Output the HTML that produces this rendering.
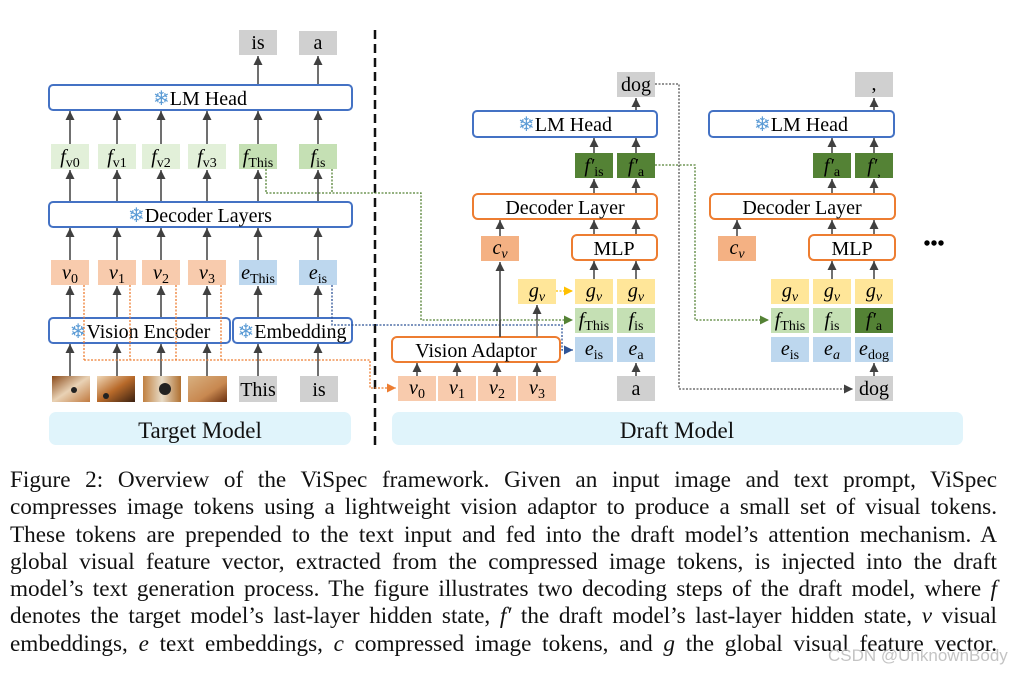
<!DOCTYPE html>
<html><head><meta charset="utf-8"><style>
html,body{margin:0;padding:0;background:#fff;}
body{width:1028px;height:675px;position:relative;overflow:hidden;font-family:"Liberation Serif",serif;}
svg{position:absolute;left:0;top:0;}
.cap{position:absolute;left:10px;top:467px;width:987px;font-size:23.2px;line-height:27.3px;color:#111;}
.cap div{text-align:justify;text-align-last:justify;white-space:nowrap;height:27.3px;}
.cap i{font-style:italic;}
.wm{position:absolute;left:828px;top:646px;font-family:"Liberation Sans",sans-serif;font-size:17px;color:#c4c4c4;}
</style></head><body>
<svg width="1028" height="675" viewBox="0 0 1028 675" font-family="Liberation Serif, serif">
<defs>
<marker id="a" markerUnits="userSpaceOnUse" markerWidth="10" markerHeight="10" refX="9" refY="5" orient="auto"><path d="M0,0.5 L9,5 L0,9.5 z" fill="#404040"/></marker>
<marker id="ao" markerUnits="userSpaceOnUse" markerWidth="10" markerHeight="10" refX="9" refY="5" orient="auto"><path d="M0,0.5 L9,5 L0,9.5 z" fill="#ED7D31"/></marker>
<marker id="ag" markerUnits="userSpaceOnUse" markerWidth="10" markerHeight="10" refX="9" refY="5" orient="auto"><path d="M0,0.5 L9,5 L0,9.5 z" fill="#548235"/></marker>
<marker id="ab" markerUnits="userSpaceOnUse" markerWidth="10" markerHeight="10" refX="9" refY="5" orient="auto"><path d="M0,0.5 L9,5 L0,9.5 z" fill="#2F5597"/></marker>
<marker id="ay" markerUnits="userSpaceOnUse" markerWidth="10" markerHeight="10" refX="9" refY="5" orient="auto"><path d="M0,0.5 L9,5 L0,9.5 z" fill="#FFC000"/></marker>
<linearGradient id="d1" x1="0" y1="0" x2="1" y2="1"><stop offset="0" stop-color="#8a4a1a"/><stop offset="0.5" stop-color="#e9d2b5"/><stop offset="1" stop-color="#c07a40"/></linearGradient>
<linearGradient id="d2" x1="0" y1="0" x2="1" y2="1"><stop offset="0" stop-color="#f0d8b8"/><stop offset="0.5" stop-color="#b86a2a"/><stop offset="1" stop-color="#3a2010"/></linearGradient>
<linearGradient id="d3" x1="0" y1="0" x2="1" y2="0"><stop offset="0" stop-color="#c08040"/><stop offset="0.5" stop-color="#e8dcc8"/><stop offset="1" stop-color="#b07030"/></linearGradient>
<linearGradient id="d4" x1="0" y1="0" x2="1" y2="1"><stop offset="0" stop-color="#d8b080"/><stop offset="0.6" stop-color="#c88850"/><stop offset="1" stop-color="#6a3010"/></linearGradient>
</defs>

<rect x="49" y="412" width="302" height="33" rx="7" fill="#E0F4FB"/>
<text x="200" y="438" font-size="23" text-anchor="middle" fill="#111">Target Model</text>
<rect x="392" y="412" width="571" height="33" rx="7" fill="#E0F4FB"/>
<text x="677" y="438" font-size="23" text-anchor="middle" fill="#111">Draft Model</text>
<line x1="375" y1="30" x2="375" y2="445" stroke="#111" stroke-width="2.5" stroke-dasharray="9,5"/>

<g stroke="#404040" stroke-width="1.5" marker-end="url(#a)">
<line x1="258" y1="85" x2="258" y2="56"/><line x1="318" y1="85" x2="318" y2="56"/>
<line x1="70" y1="144" x2="70" y2="111"/><line x1="117" y1="144" x2="117" y2="111"/><line x1="161" y1="144" x2="161" y2="111"/><line x1="207" y1="144" x2="207" y2="111"/><line x1="258" y1="144" x2="258" y2="111"/><line x1="318" y1="144" x2="318" y2="111"/>
<line x1="70" y1="202" x2="70" y2="170"/><line x1="117" y1="202" x2="117" y2="170"/><line x1="161" y1="202" x2="161" y2="170"/><line x1="207" y1="202" x2="207" y2="170"/><line x1="258" y1="202" x2="258" y2="170"/><line x1="318" y1="202" x2="318" y2="170"/>
<line x1="70" y1="260" x2="70" y2="228"/><line x1="117" y1="260" x2="117" y2="228"/><line x1="161" y1="260" x2="161" y2="228"/><line x1="207" y1="260" x2="207" y2="228"/><line x1="258" y1="260" x2="258" y2="228"/><line x1="318" y1="260" x2="318" y2="228"/>
<line x1="70" y1="318" x2="70" y2="286"/><line x1="117" y1="318" x2="117" y2="286"/><line x1="161" y1="318" x2="161" y2="286"/><line x1="207" y1="318" x2="207" y2="286"/><line x1="258" y1="318" x2="258" y2="286"/><line x1="318" y1="318" x2="318" y2="286"/>
<line x1="70" y1="376" x2="70" y2="344"/><line x1="117" y1="376" x2="117" y2="344"/><line x1="161" y1="376" x2="161" y2="344"/><line x1="207" y1="376" x2="207" y2="344"/><line x1="258" y1="376" x2="258" y2="344"/><line x1="318" y1="376" x2="318" y2="344"/>
</g>
<rect x="239" y="30" width="38" height="25" fill="#D0D0D0"/><text x="258" y="49" font-size="20" text-anchor="middle">is</text>
<rect x="299" y="31" width="38" height="24" fill="#D0D0D0"/><text x="318" y="49" font-size="20" text-anchor="middle">a</text>
<rect x="49" y="85" width="303" height="25" rx="4" fill="#fff" stroke="#4472C4" stroke-width="2"/>
<text x="200" y="105" font-size="20" text-anchor="middle"><tspan fill="#5B9BD5">❄</tspan>LM Head</text>
<g font-size="20" text-anchor="middle">
<rect x="51" y="144" width="38" height="25" fill="#E2F0D9"/><text x="70" y="163"><tspan font-style="italic">f</tspan><tspan font-size="14" dy="4">v0</tspan></text>
<rect x="98" y="144" width="38" height="25" fill="#E2F0D9"/><text x="117" y="163"><tspan font-style="italic">f</tspan><tspan font-size="14" dy="4">v1</tspan></text>
<rect x="142" y="144" width="38" height="25" fill="#E2F0D9"/><text x="161" y="163"><tspan font-style="italic">f</tspan><tspan font-size="14" dy="4">v2</tspan></text>
<rect x="188" y="144" width="38" height="25" fill="#E2F0D9"/><text x="207" y="163"><tspan font-style="italic">f</tspan><tspan font-size="14" dy="4">v3</tspan></text>
<rect x="239" y="144" width="38" height="25" fill="#C5E0B4"/><text x="258" y="163"><tspan font-style="italic">f</tspan><tspan font-size="14" dy="4">This</tspan></text>
<rect x="299" y="144" width="38" height="25" fill="#C5E0B4"/><text x="318" y="163"><tspan font-style="italic">f</tspan><tspan font-size="14" dy="4">is</tspan></text>
</g>
<rect x="49" y="202" width="303" height="25" rx="4" fill="#fff" stroke="#4472C4" stroke-width="2"/>
<text x="200" y="222" font-size="20" text-anchor="middle"><tspan fill="#5B9BD5">❄</tspan>Decoder Layers</text>
<g font-size="20" text-anchor="middle">
<rect x="51" y="260" width="38" height="25" fill="#F8CBAD"/><text x="70" y="279"><tspan font-style="italic">v</tspan><tspan font-size="14" dy="4">0</tspan></text>
<rect x="98" y="260" width="38" height="25" fill="#F8CBAD"/><text x="117" y="279"><tspan font-style="italic">v</tspan><tspan font-size="14" dy="4">1</tspan></text>
<rect x="142" y="260" width="38" height="25" fill="#F8CBAD"/><text x="161" y="279"><tspan font-style="italic">v</tspan><tspan font-size="14" dy="4">2</tspan></text>
<rect x="188" y="260" width="38" height="25" fill="#F8CBAD"/><text x="207" y="279"><tspan font-style="italic">v</tspan><tspan font-size="14" dy="4">3</tspan></text>
<rect x="239" y="260" width="38" height="25" fill="#BDD7EE"/><text x="258" y="279"><tspan font-style="italic">e</tspan><tspan font-size="14" dy="4">This</tspan></text>
<rect x="299" y="260" width="38" height="25" fill="#BDD7EE"/><text x="318" y="279"><tspan font-style="italic">e</tspan><tspan font-size="14" dy="4">is</tspan></text>
</g>
<rect x="49" y="318" width="181" height="25" rx="4" fill="#fff" stroke="#4472C4" stroke-width="2"/>
<text x="140" y="338" font-size="20" text-anchor="middle"><tspan fill="#5B9BD5">❄</tspan>Vision Encoder</text>
<rect x="233" y="318" width="119" height="25" rx="4" fill="#fff" stroke="#4472C4" stroke-width="2"/>
<text x="292" y="338" font-size="20" text-anchor="middle"><tspan fill="#5B9BD5">❄</tspan>Embedding</text>
<rect x="52" y="376" width="38" height="26" fill="url(#d1)"/>
<rect x="97" y="376" width="38" height="26" fill="url(#d2)"/>
<rect x="143" y="376" width="38" height="26" fill="url(#d3)"/><circle cx="165" cy="389" r="6" fill="#222"/>
<rect x="188" y="376" width="39" height="26" fill="url(#d4)"/>
<circle cx="74" cy="390" r="3" fill="#222"/><circle cx="106" cy="396" r="3" fill="#222"/>
<rect x="239" y="376" width="38" height="26" fill="#D0D0D0"/><text x="258" y="396" font-size="20" text-anchor="middle">This</text>
<rect x="300" y="376" width="38" height="26" fill="#D0D0D0"/><text x="319" y="396" font-size="20" text-anchor="middle">is</text>

<g fill="none" stroke-width="1.3" stroke-dasharray="2,1.5">
<path d="M84,285 V360 M130,285 V360 M176,285 V360 M221,285 V360 M84,360 H370 V388 H396" stroke="#ED7D31" marker-end="url(#ao)"/>
<path d="M266,169 V193 M332,169 V193 M266,193 H421 V320 H573" stroke="#548235" marker-end="url(#ag)"/>
<path d="M332,285 V325 H562 V350 H573" stroke="#2F5597" marker-end="url(#ab)"/>
<path d="M655,84 H679 V389 H853" stroke="#555" marker-end="url(#a)"/>
<path d="M655,165 H695 V320 H769" stroke="#548235" marker-end="url(#ag)"/>
<path d="M556,291 H573" stroke="#FFC000" marker-end="url(#ay)"/>
</g>

<g stroke="#404040" stroke-width="1.5" marker-end="url(#a)">
<line x1="417" y1="376" x2="417" y2="363"/><line x1="457" y1="376" x2="457" y2="363"/><line x1="497" y1="376" x2="497" y2="363"/><line x1="537" y1="376" x2="537" y2="363"/>
<line x1="500" y1="337" x2="500" y2="262"/><line x1="537" y1="337" x2="537" y2="305"/>
<line x1="636" y1="376" x2="636" y2="363"/>
<line x1="594" y1="279" x2="594" y2="261"/><line x1="636" y1="279" x2="636" y2="261"/>
<line x1="594" y1="235" x2="594" y2="220"/><line x1="636" y1="235" x2="636" y2="220"/>
<line x1="500" y1="236" x2="500" y2="220"/>
<line x1="594" y1="194" x2="594" y2="179"/><line x1="636" y1="194" x2="636" y2="179"/>
<line x1="594" y1="153" x2="594" y2="138"/><line x1="636" y1="153" x2="636" y2="138"/>
<line x1="636" y1="111" x2="636" y2="98"/>
</g>
<rect x="617" y="72" width="38" height="25" fill="#D0D0D0"/><text x="636" y="91" font-size="20" text-anchor="middle">dog</text>
<rect x="473" y="111" width="184" height="26" rx="4" fill="#fff" stroke="#4472C4" stroke-width="2"/>
<text x="565" y="131" font-size="20" text-anchor="middle"><tspan fill="#5B9BD5">❄</tspan>LM Head</text>
<g font-size="20" text-anchor="middle">
<rect x="575" y="153" width="38" height="25" fill="#548235"/><text x="594" y="172"><tspan font-style="italic">f′</tspan><tspan font-size="14" dy="4">is</tspan></text>
<rect x="617" y="153" width="38" height="25" fill="#548235"/><text x="636" y="172"><tspan font-style="italic">f′</tspan><tspan font-size="14" dy="4">a</tspan></text>
</g>
<rect x="473" y="194" width="184" height="25" rx="5" fill="#fff" stroke="#ED7D31" stroke-width="2"/>
<text x="565" y="214" font-size="20" text-anchor="middle">Decoder Layer</text>
<rect x="572" y="235" width="85" height="25" rx="5" fill="#fff" stroke="#ED7D31" stroke-width="2"/>
<text x="614" y="255" font-size="20" text-anchor="middle">MLP</text>
<g font-size="20" text-anchor="middle">
<rect x="481" y="236" width="38" height="25" fill="#F4B183"/><text x="500" y="254"><tspan font-style="italic">c</tspan><tspan font-size="14" font-style="italic" dy="4">v</tspan></text>
<rect x="518" y="279" width="38" height="25" fill="#FFE699"/><text x="537" y="297"><tspan font-style="italic">g</tspan><tspan font-size="14" font-style="italic" dy="4">v</tspan></text>
<rect x="575" y="279" width="38" height="25" fill="#FFE699"/><text x="594" y="297"><tspan font-style="italic">g</tspan><tspan font-size="14" font-style="italic" dy="4">v</tspan></text>
<rect x="617" y="279" width="38" height="25" fill="#FFE699"/><text x="636" y="297"><tspan font-style="italic">g</tspan><tspan font-size="14" font-style="italic" dy="4">v</tspan></text>
<rect x="575" y="308" width="38" height="25" fill="#C5E0B4"/><text x="594" y="326"><tspan font-style="italic">f</tspan><tspan font-size="14" dy="4">This</tspan></text>
<rect x="617" y="308" width="38" height="25" fill="#C5E0B4"/><text x="636" y="326"><tspan font-style="italic">f</tspan><tspan font-size="14" dy="4">is</tspan></text>
<rect x="575" y="337" width="38" height="25" fill="#BDD7EE"/><text x="594" y="355"><tspan font-style="italic">e</tspan><tspan font-size="14" dy="4">is</tspan></text>
<rect x="617" y="337" width="38" height="25" fill="#BDD7EE"/><text x="636" y="355"><tspan font-style="italic">e</tspan><tspan font-size="14" dy="4">a</tspan></text>
<rect x="398" y="376" width="38" height="25" fill="#F8CBAD"/><text x="417" y="394"><tspan font-style="italic">v</tspan><tspan font-size="14" dy="4">0</tspan></text>
<rect x="438" y="376" width="38" height="25" fill="#F8CBAD"/><text x="457" y="394"><tspan font-style="italic">v</tspan><tspan font-size="14" dy="4">1</tspan></text>
<rect x="478" y="376" width="38" height="25" fill="#F8CBAD"/><text x="497" y="394"><tspan font-style="italic">v</tspan><tspan font-size="14" dy="4">2</tspan></text>
<rect x="518" y="376" width="38" height="25" fill="#F8CBAD"/><text x="537" y="394"><tspan font-style="italic">v</tspan><tspan font-size="14" dy="4">3</tspan></text>
<rect x="617" y="376" width="38" height="25" fill="#D0D0D0"/><text x="636" y="395">a</text>
</g>
<rect x="392" y="337" width="168" height="25" rx="5" fill="#fff" stroke="#ED7D31" stroke-width="2"/>
<text x="476" y="357" font-size="20" text-anchor="middle">Vision Adaptor</text>
<line x1="500" y1="337" x2="500" y2="320" stroke="#404040" stroke-width="1.5"/>
<line x1="537" y1="337" x2="537" y2="320" stroke="#808080" stroke-width="1.5"/>

<g stroke="#404040" stroke-width="1.5" marker-end="url(#a)">
<line x1="874" y1="376" x2="874" y2="363"/>
<line x1="832" y1="279" x2="832" y2="261"/><line x1="874" y1="279" x2="874" y2="261"/>
<line x1="832" y1="235" x2="832" y2="220"/><line x1="874" y1="235" x2="874" y2="220"/>
<line x1="737" y1="236" x2="737" y2="220"/>
<line x1="832" y1="194" x2="832" y2="179"/><line x1="874" y1="194" x2="874" y2="179"/>
<line x1="832" y1="153" x2="832" y2="138"/><line x1="874" y1="153" x2="874" y2="138"/>
<line x1="874" y1="111" x2="874" y2="98"/>
</g>
<rect x="855" y="72" width="38" height="25" fill="#D0D0D0"/><text x="874" y="90" font-size="20" text-anchor="middle">,</text>
<rect x="709" y="111" width="185" height="26" rx="4" fill="#fff" stroke="#4472C4" stroke-width="2"/>
<text x="801" y="131" font-size="20" text-anchor="middle"><tspan fill="#5B9BD5">❄</tspan>LM Head</text>
<rect x="710" y="194" width="185" height="25" rx="5" fill="#fff" stroke="#ED7D31" stroke-width="2"/>
<text x="802" y="214" font-size="20" text-anchor="middle">Decoder Layer</text>
<rect x="809" y="235" width="86" height="25" rx="5" fill="#fff" stroke="#ED7D31" stroke-width="2"/>
<text x="852" y="255" font-size="20" text-anchor="middle">MLP</text>
<text x="934" y="250" font-size="20" text-anchor="middle" font-weight="bold">•••</text>
<g font-size="20" text-anchor="middle">
<rect x="813" y="153" width="38" height="25" fill="#548235"/><text x="832" y="172"><tspan font-style="italic">f′</tspan><tspan font-size="14" dy="4">a</tspan></text>
<rect x="855" y="153" width="38" height="25" fill="#548235"/><text x="874" y="172"><tspan font-style="italic">f′</tspan><tspan font-size="14" dy="4">,</tspan></text>
<rect x="718" y="236" width="38" height="25" fill="#F4B183"/><text x="737" y="254"><tspan font-style="italic">c</tspan><tspan font-size="14" font-style="italic" dy="4">v</tspan></text>
<rect x="771" y="279" width="38" height="25" fill="#FFE699"/><text x="790" y="297"><tspan font-style="italic">g</tspan><tspan font-size="14" font-style="italic" dy="4">v</tspan></text>
<rect x="813" y="279" width="38" height="25" fill="#FFE699"/><text x="832" y="297"><tspan font-style="italic">g</tspan><tspan font-size="14" font-style="italic" dy="4">v</tspan></text>
<rect x="855" y="279" width="38" height="25" fill="#FFE699"/><text x="874" y="297"><tspan font-style="italic">g</tspan><tspan font-size="14" font-style="italic" dy="4">v</tspan></text>
<rect x="771" y="308" width="38" height="25" fill="#C5E0B4"/><text x="790" y="326"><tspan font-style="italic">f</tspan><tspan font-size="14" dy="4">This</tspan></text>
<rect x="813" y="308" width="38" height="25" fill="#C5E0B4"/><text x="832" y="326"><tspan font-style="italic">f</tspan><tspan font-size="14" dy="4">is</tspan></text>
<rect x="855" y="308" width="38" height="25" fill="#548235"/><text x="874" y="326"><tspan font-style="italic">f′</tspan><tspan font-size="14" dy="4">a</tspan></text>
<rect x="771" y="337" width="38" height="25" fill="#BDD7EE"/><text x="790" y="355"><tspan font-style="italic">e</tspan><tspan font-size="14" dy="4">is</tspan></text>
<rect x="813" y="337" width="38" height="25" fill="#BDD7EE"/><text x="832" y="355"><tspan font-style="italic">e</tspan><tspan font-size="14" font-style="italic" dy="4">a</tspan></text>
<rect x="855" y="337" width="38" height="25" fill="#BDD7EE"/><text x="874" y="355"><tspan font-style="italic">e</tspan><tspan font-size="14" dy="4">dog</tspan></text>
<rect x="855" y="376" width="38" height="25" fill="#D0D0D0"/><text x="874" y="395">dog</text>
</g>
</svg>
<div class="cap">
<div>Figure 2: Overview of the ViSpec framework. Given an input image and text prompt, ViSpec</div>
<div>compresses image tokens using a lightweight vision adaptor to produce a small set of visual tokens.</div>
<div>These tokens are prepended to the text input and fed into the draft model’s attention mechanism. A</div>
<div>global visual feature vector, extracted from the compressed image tokens, is injected into the draft</div>
<div>model’s text generation process. The figure illustrates two decoding steps of the draft model, where <i>f</i></div>
<div>denotes the target model’s last-layer hidden state, <i>f′</i> the draft model’s last-layer hidden state, <i>v</i> visual</div>
<div>embeddings, <i>e</i> text embeddings, <i>c</i> compressed image tokens, and <i>g</i> the global visual feature vector.</div>
</div>
<div class="wm">CSDN @UnknownBody</div>
</body></html>
